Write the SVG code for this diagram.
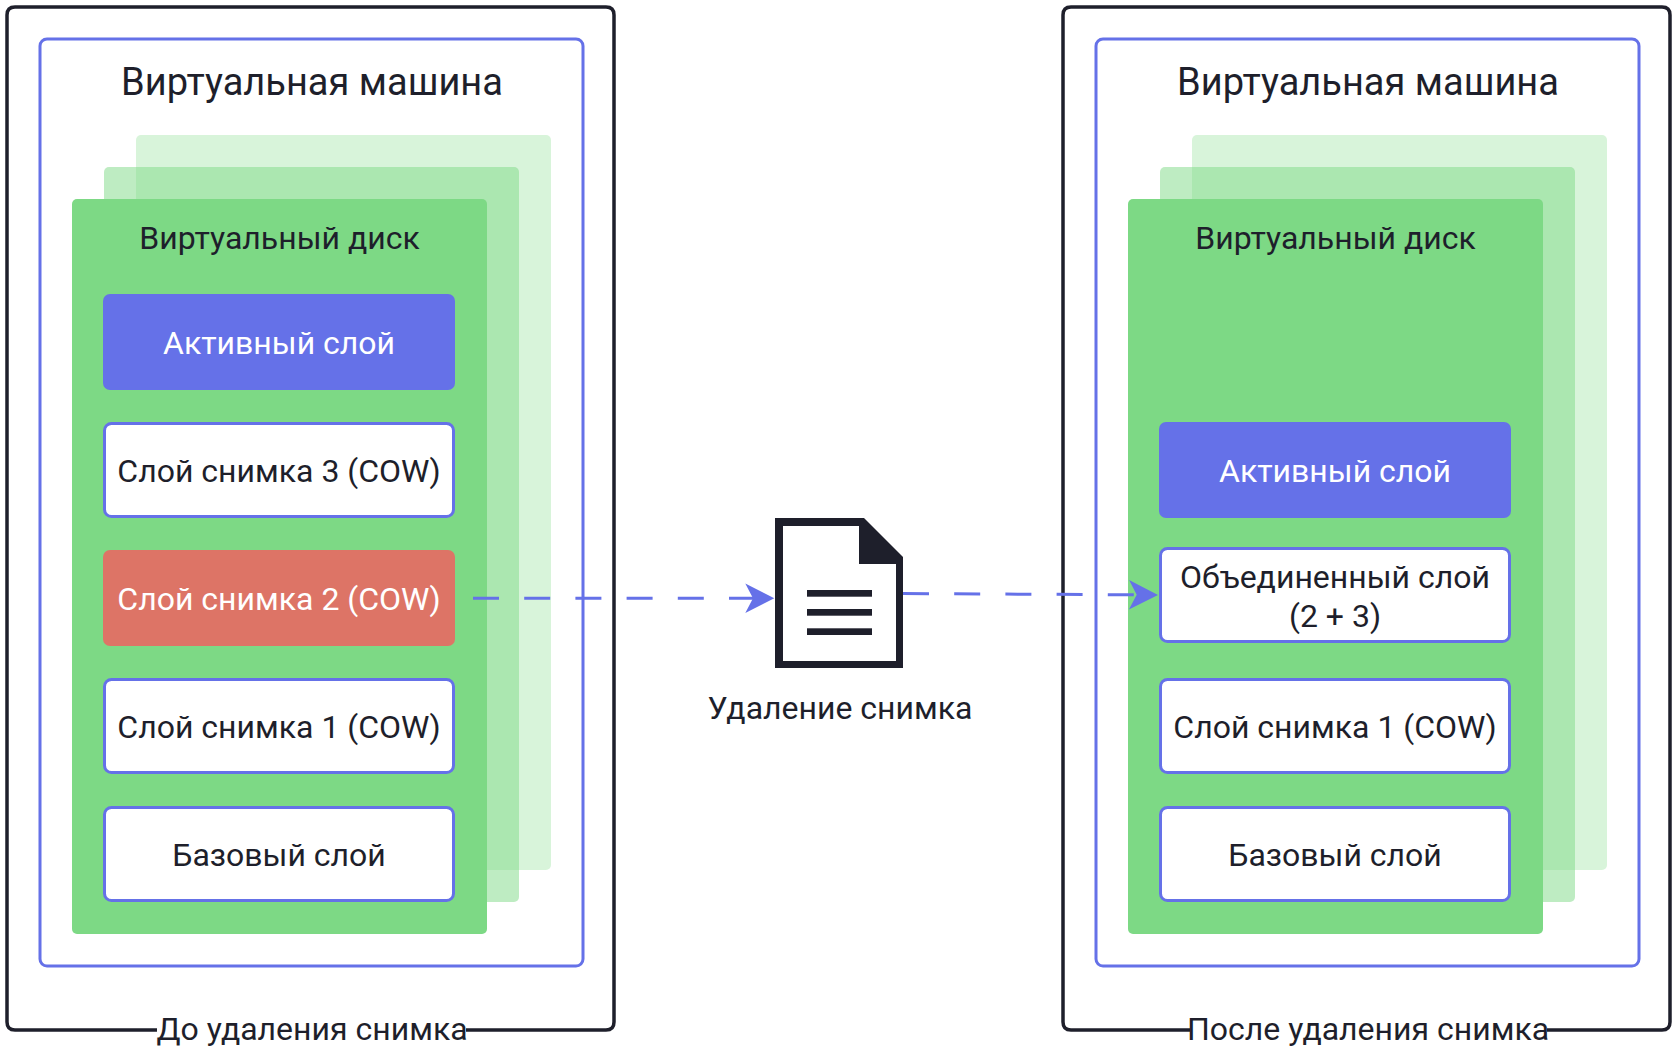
<svg xmlns="http://www.w3.org/2000/svg" width="1676" height="1048" viewBox="0 0 1676 1048">
  <style>
    text { font-family: Roboto, "Noto Sans", "DejaVu Sans", sans-serif; fill: #1e1f2b; text-anchor: middle; }
    .frame { fill: none; stroke: #1e1f2b; stroke-width: 3.5; }
    .vm { fill: #ffffff; stroke: #6571e8; stroke-width: 3; }
    .disk { fill: #7dd985; }
    .layer { fill: #ffffff; stroke: #6571e8; stroke-width: 3; }
    .active { fill: #6571e8; }
    .changed { fill: #dd7466; }
    .t-title { font-size: 38px; }
    .t-label { font-size: 32px; }
    .t-white { fill: #ffffff; }
    .conn { fill: none; stroke: #6571e8; stroke-width: 3; stroke-dasharray: 26 25.2; }
  </style>
  <defs>
    <marker id="arrow" markerUnits="userSpaceOnUse" markerWidth="30" markerHeight="30" viewBox="0 0 29 30" refX="21" refY="15" orient="auto">
      <path d="M0,0.3 L29,15 L0,29.7 L7.7,15 Z" fill="#6571e8"/>
    </marker>
  </defs>

  <rect width="1676" height="1048" fill="#ffffff"/>

  <!-- Left panel: before deletion -->
  <g id="panel-before">
    <path class="frame" d="M157,1030 H15 Q7,1030 7,1022 V15 Q7,7 15,7 H606 Q614,7 614,15 V1022 Q614,1030 606,1030 H466"/>
    <text class="t-label" x="312" y="1040">До удаления снимка</text>
  </g>
  <g id="vm-before">
    <rect class="vm" x="40" y="39" width="543" height="927" rx="7"/>
    <text class="t-title" x="312" y="95">Виртуальная машина</text>
  </g>
  <g id="disk-before">
    <rect class="disk" x="136" y="135" width="415" height="735" rx="5" opacity="0.3"/>
    <rect class="disk" x="104" y="167" width="415" height="735" rx="5" opacity="0.5"/>
    <rect class="disk" x="72" y="199" width="415" height="735" rx="5"/>
    <text class="t-label" x="279.5" y="249">Виртуальный диск</text>
  </g>
  <g id="active-before">
    <rect class="active" x="103" y="294" width="352" height="96" rx="7"/>
    <text class="t-label t-white" x="279" y="354">Активный слой</text>
  </g>
  <g id="snap3-before">
    <rect class="layer" x="104.5" y="423.5" width="349" height="93" rx="7"/>
    <text class="t-label" x="279" y="482">Слой снимка 3 (COW)</text>
  </g>
  <g id="snap2-before">
    <rect class="changed" x="103" y="550" width="352" height="96" rx="7"/>
    <text class="t-label t-white" x="279" y="610">Слой снимка 2 (COW)</text>
  </g>
  <g id="snap1-before">
    <rect class="layer" x="104.5" y="679.5" width="349" height="93" rx="7"/>
    <text class="t-label" x="279" y="738">Слой снимка 1 (COW)</text>
  </g>
  <g id="base-before">
    <rect class="layer" x="104.5" y="807.5" width="349" height="93" rx="7"/>
    <text class="t-label" x="279" y="866">Базовый слой</text>
  </g>

  <!-- Middle: delete snapshot -->
  <g id="delete-snapshot">
    <path d="M775,518 H864 L903,557 V668 H775 Z" fill="#1e1f2b"/>
    <path d="M783,526 H859 V564 H896 V661 H783 Z" fill="#ffffff"/>
    <rect x="807" y="590" width="65" height="6.7" fill="#1e1f2b"/>
    <rect x="807" y="609" width="65" height="6.7" fill="#1e1f2b"/>
    <rect x="807" y="628.3" width="65" height="6.7" fill="#1e1f2b"/>
    <text class="t-label" x="840" y="719">Удаление снимка</text>
  </g>

  <!-- Right panel: after deletion -->
  <g id="panel-after">
    <path class="frame" d="M1190,1030 H1071 Q1063,1030 1063,1022 V15 Q1063,7 1071,7 H1662 Q1670,7 1670,15 V1022 Q1670,1030 1662,1030 H1547"/>
    <text class="t-label" x="1368" y="1040">После удаления снимка</text>
  </g>
  <g id="vm-after">
    <rect class="vm" x="1096" y="39" width="543" height="927" rx="7"/>
    <text class="t-title" x="1368" y="95">Виртуальная машина</text>
  </g>
  <g id="disk-after">
    <rect class="disk" x="1192" y="135" width="415" height="735" rx="5" opacity="0.3"/>
    <rect class="disk" x="1160" y="167" width="415" height="735" rx="5" opacity="0.5"/>
    <rect class="disk" x="1128" y="199" width="415" height="735" rx="5"/>
    <text class="t-label" x="1335.5" y="249">Виртуальный диск</text>
  </g>
  <g id="active-after">
    <rect class="active" x="1159" y="422" width="352" height="96" rx="7"/>
    <text class="t-label t-white" x="1335" y="482">Активный слой</text>
  </g>
  <g id="merged-after">
    <rect class="layer" x="1160.5" y="548.5" width="349" height="93" rx="7"/>
    <text class="t-label" x="1335" y="588">Объединенный слой</text>
    <text class="t-label" x="1335" y="627">(2 + 3)</text>
  </g>
  <g id="snap1-after">
    <rect class="layer" x="1160.5" y="679.5" width="349" height="93" rx="7"/>
    <text class="t-label" x="1335" y="738">Слой снимка 1 (COW)</text>
  </g>
  <g id="base-after">
    <rect class="layer" x="1160.5" y="807.5" width="349" height="93" rx="7"/>
    <text class="t-label" x="1335" y="866">Базовый слой</text>
  </g>

  <!-- Connectors -->
  <g id="connectors">
    <path class="conn" d="M473,598.3 L766.3,598.3" marker-end="url(#arrow)"/>
    <path class="conn" d="M903,593.5 L1150,594.9" marker-end="url(#arrow)"/>
  </g>
</svg>
